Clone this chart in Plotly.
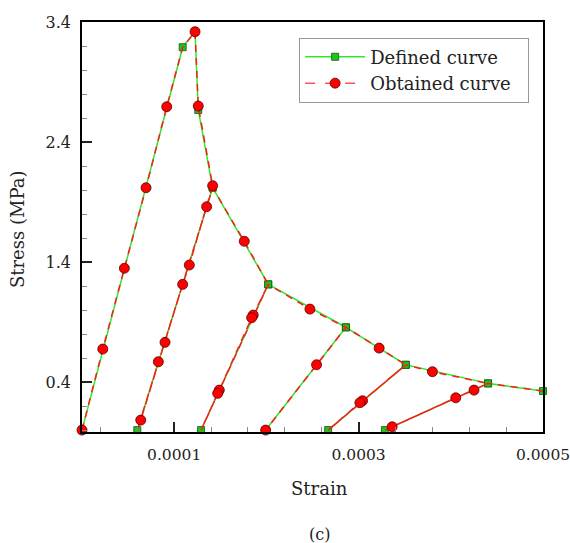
import plotly.graph_objects as go

# ---- Defined curve (green squares), path order ----
defined_strain = [0.0, 1.092e-4, 1.226e-4, 1.261e-4, 1.417e-4, 0.600e-4, 1.417e-4,
                  2.020e-4, 1.291e-4, 2.020e-4, 2.862e-4, 1.992e-4, 2.862e-4,
                  3.512e-4, 2.670e-4, 3.512e-4, 4.404e-4, 3.285e-4, 4.404e-4, 5.0e-4]
defined_stress = [0.0, 3.19, 3.32, 2.667, 2.02, 0.0, 2.02,
                  1.214, 0.0, 1.214, 0.856, 0.0, 0.856,
                  0.544, 0.0, 0.544, 0.389, 0.0, 0.389, 0.325]

# ---- Obtained curve (red circles), path order; sampled=1 marks a computed point ----
obtained_strain = [0.0, 0.2254e-4, 0.4595e-4, 0.6946e-4, 0.919e-4, 1.092e-4, 1.226e-4, 1.261e-4,
                   1.417e-4, 1.352e-4, 1.164e-4, 1.092e-4, 0.9005e-4, 0.828e-4, 0.637e-4,
                   0.600e-4, 1.417e-4, 1.760e-4, 2.020e-4, 1.857e-4, 1.840e-4, 1.489e-4,
                   1.472e-4, 1.291e-4, 2.020e-4, 2.472e-4, 2.862e-4, 2.544e-4, 1.992e-4,
                   2.862e-4, 3.223e-4, 3.512e-4, 3.043e-4, 3.014e-4, 2.670e-4, 3.512e-4,
                   3.801e-4, 4.404e-4, 4.252e-4, 4.054e-4, 3.364e-4, 3.285e-4, 4.404e-4, 5.0e-4]
obtained_stress = [0.0, 0.675, 1.348, 2.019, 2.694, 3.19, 3.319, 2.70,
                   2.036, 1.861, 1.375, 1.214, 0.731, 0.569, 0.083,
                   0.0, 2.02, 1.573, 1.214, 0.958, 0.936, 0.333,
                   0.306, 0.0, 1.214, 1.008, 0.856, 0.544, 0.0,
                   0.856, 0.683, 0.544, 0.244, 0.228, 0.0, 0.544,
                   0.486, 0.389, 0.333, 0.269, 0.0275, 0.0, 0.389, 0.325]
obtained_sampled = [1, 1, 1, 1, 1, 0, 1, 1,
                    1, 1, 1, 1, 1, 1, 1,
                    0, 0, 1, 0, 1, 1, 1,
                    1, 0, 0, 1, 0, 1, 1,
                    0, 1, 0, 1, 1, 0, 0,
                    1, 0, 1, 1, 1, 0, 0, 0]

x_tickvals = [0.0001, 0.0003, 0.0005]
x_ticktext = ["0.0001", "0.0003", "0.0005"]
y_tickvals = [0.4, 1.4, 2.4, 3.4]
y_ticktext = ["0.4", "1.4", "2.4", "3.4"]

FONT = "DejaVu Serif"
GREEN_LINE = "#2ee82e"
GREEN_FILL = "#1fc41f"
RED = "#ff1a1a"

circ_x = [x for x, s in zip(obtained_strain, obtained_sampled) if s]
circ_y = [y for y, s in zip(obtained_stress, obtained_sampled) if s]

fig = go.Figure()
fig.add_trace(go.Scatter(
    x=defined_strain, y=defined_stress, mode="lines+markers", name="Defined curve\u00a0\u00a0",
    line=dict(color=GREEN_LINE, width=1.5),
    marker=dict(symbol="square", size=7, color=GREEN_FILL,
                line=dict(color="#0a5a0a", width=0.8)),
    cliponaxis=False))
fig.add_trace(go.Scatter(
    x=obtained_strain, y=obtained_stress, mode="lines", showlegend=False,
    line=dict(color=RED, width=1.5, dash="7px,6px"), hoverinfo="skip",
    cliponaxis=False))
fig.add_trace(go.Scatter(
    x=circ_x, y=circ_y, mode="markers", showlegend=False,
    marker=dict(symbol="circle", size=10, color="#ff0000",
                line=dict(color="#5a0000", width=0.8)),
    cliponaxis=False))
# legend entry for obtained curve
fig.add_trace(go.Scatter(
    x=[None], y=[None], mode="lines+markers", name="Obtained curve\u00a0\u00a0",
    line=dict(color="#ff5555", width=1.5, dash="10px,10px"),
    marker=dict(symbol="circle", size=10, color="#ff0000",
                line=dict(color="#5a0000", width=0.8))))

axis_common = dict(
    showgrid=False, zeroline=False, showline=True, linecolor="black", linewidth=1.5,
    mirror=True, ticks="inside", ticklen=10, tickwidth=1.5, tickcolor="#222",
    ticklabeloverflow="allow", automargin=False,
)

fig.update_xaxes(
    range=[0, 0.0005000001], tickvals=x_tickvals, ticktext=x_ticktext,
    tickfont=dict(family=FONT, size=15.5, color="#222"),
    minor=dict(ticks="inside", ticklen=5, tickwidth=1, tickcolor="#888",
               tick0=0.00002, dtick=0.00004, showgrid=False),
    ticklabelstandoff=8,
    **axis_common)
fig.update_yaxes(
    range=[-0.016, 3.4000001], tickvals=y_tickvals, ticktext=y_ticktext,
    tickfont=dict(family=FONT, size=16, color="#222"),
    minor=dict(ticks="inside", ticklen=5, tickwidth=1, tickcolor="#888",
               tick0=0.0, dtick=0.2, showgrid=False),
    ticklabelstandoff=6,
    **axis_common)

fig.update_layout(
    width=570, height=543,
    margin=dict(l=82, r=27, t=22, b=111, autoexpand=False),
    paper_bgcolor="white", plot_bgcolor="white",
    font=dict(family=FONT, color="#222"),
    showlegend=True,
    legend=dict(x=0.471, y=0.962, xanchor="left", yanchor="top",
                bgcolor="white", bordercolor="#999", borderwidth=1,
                font=dict(family=FONT, size=18, color="#222"),
                itemwidth=60, tracegroupgap=0),
    annotations=[
        dict(text="Strain", xref="paper", yref="paper", x=0.516, y=-0.137,
             xanchor="center", yanchor="middle", showarrow=False,
             font=dict(family=FONT, size=18, color="#222")),
        dict(text="(c)", xref="paper", yref="paper", x=0.516, y=-0.249,
             xanchor="center", yanchor="middle", showarrow=False,
             font=dict(family=FONT, size=16, color="#222")),
        dict(text="Stress (MPa)", xref="paper", yref="paper", x=-0.141, y=0.495,
             xanchor="center", yanchor="middle", showarrow=False, textangle=-90,
             font=dict(family=FONT, size=18, color="#222")),
    ],
)

fig.write_html("out.html",
               config={"displayModeBar": False},
               post_script="document.body.style.margin='0px';"
                           "document.body.style.overflow='hidden';")
